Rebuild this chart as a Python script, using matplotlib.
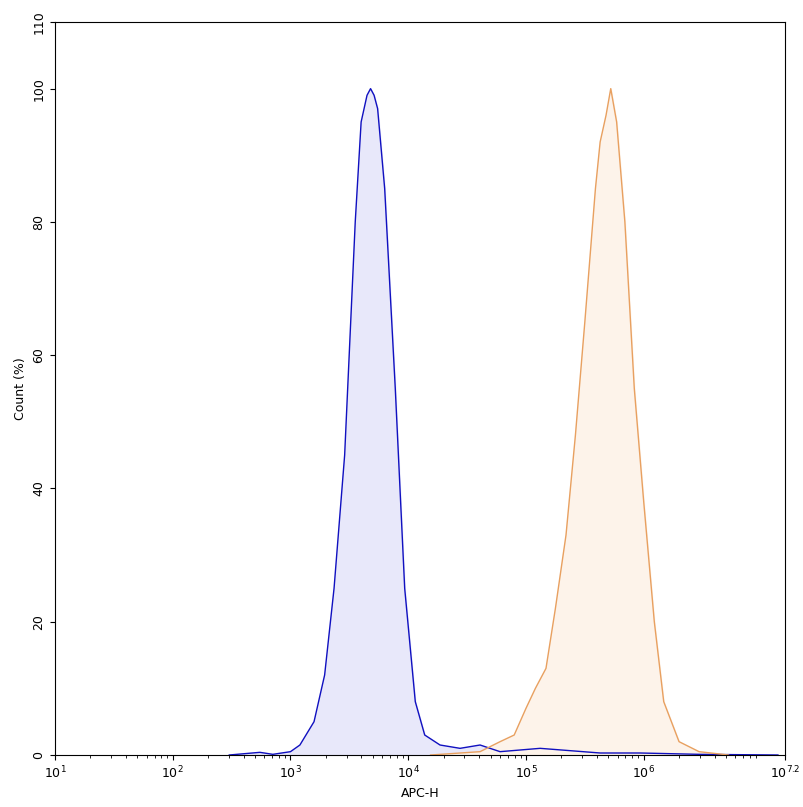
import matplotlib
matplotlib.use("Agg")
import matplotlib.pyplot as plt
import numpy as np

blue_logx = [2.48,2.74,2.85,3.0,3.08,3.2,3.29,3.37,3.46,3.55,3.6,3.65,3.68,3.71,3.74,3.8,3.89,3.97,4.06,4.14,4.27,4.44,4.61,4.78,5.12,5.63,5.97,6.47,7.14]
blue_y = [0,0.4,0.1,0.5,1.5,5,12,25,45,80,95,99,100,99,97,85,55,25,8,3,1.5,1,1.5,0.5,1,0.3,0.3,0.1,0]
orange_logx = [4.19,4.61,4.78,4.9,5.0,5.08,5.17,5.25,5.34,5.42,5.5,5.59,5.63,5.68,5.72,5.77,5.84,5.92,6.0,6.09,6.17,6.3,6.47,6.72]
orange_y = [0,0.5,2,3,7,10,13,22,33,48,65,85,92,96,100,95,80,55,38,20,8,2,0.5,0]
xtick_exp = [1,2,3,4,5,6,7.2]
ytick_vals = [0,20,40,60,80,100,110]

fig = plt.figure(figsize=(8.04,8.07), dpi=100)
ax = fig.add_axes([55/804, 52/807, 730/804, 733/807])
bx = 10**np.array(blue_logx); ox = 10**np.array(orange_logx)
ax.fill_between(bx, blue_y, color="#e8e8fa")
ax.plot(bx, blue_y, color="#1010c0", lw=1)
ax.fill_between(ox, orange_y, color="#fdf3ea")
ax.plot(ox, orange_y, color="#e8a060", lw=1)
ax.set_xscale("log")
ax.set_xlim(10, 10**7.2); ax.set_ylim(0, 110)
ax.set_xticks([10**e for e in xtick_exp])
ax.set_xticklabels(["$10^{%g}$" % e for e in xtick_exp], fontsize=9)
ax.set_yticks(ytick_vals)
ax.set_yticklabels([str(v) for v in ytick_vals], fontsize=9, rotation=90, va="center")
ax.set_xlabel("APC-H", fontsize=9)
ax.set_ylabel("Count (%)", fontsize=9)
ax.tick_params(labelsize=9)
fig.savefig("out.png", dpi=100)
